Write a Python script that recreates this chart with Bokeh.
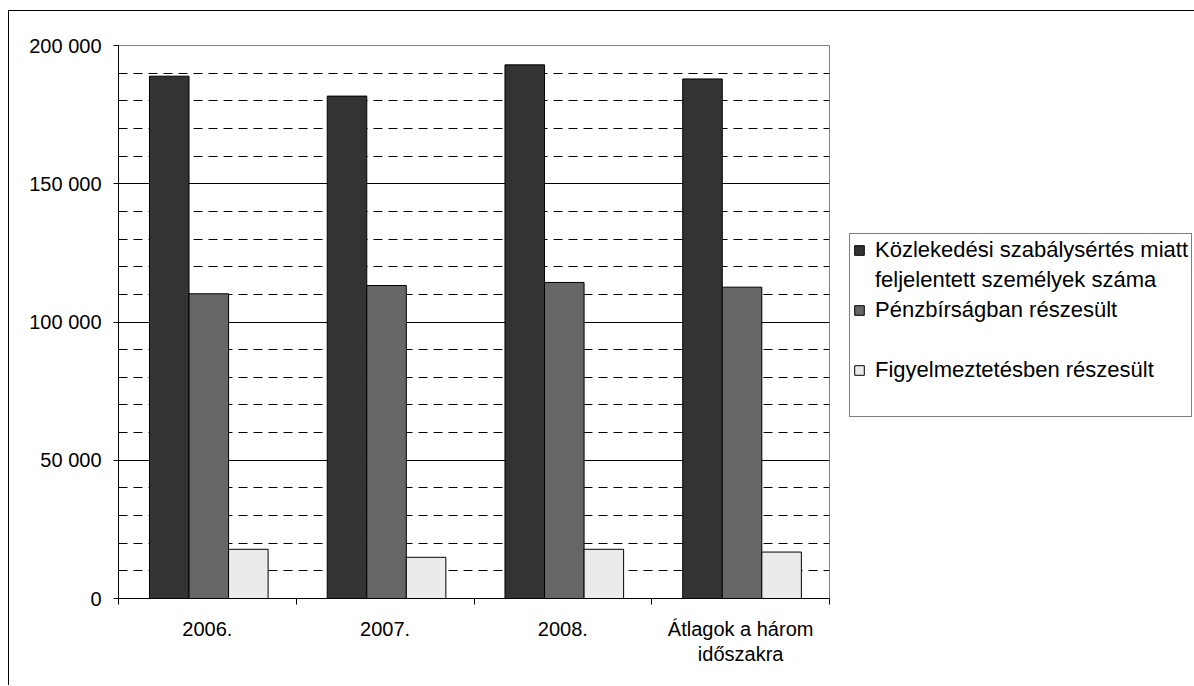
from bokeh.plotting import figure
from bokeh.models import ColumnDataSource, Range1d, FixedTicker, Legend, LegendItem
from bokeh.transform import dodge
from bokeh.embed import file_html
from bokeh.resources import INLINE

# ---- data ----
categories = ["2006.", "2007.", "2008.", "Átlagok a három\nidőszakra"]
feljelentett = [188900, 181700, 193000, 187900]
penzbirsag = [110200, 113200, 114300, 112600]
figyelmeztetes = [17800, 14900, 17800, 16800]
legend_labels = [
    ["Közlekedési szabálysértés miatt", "feljelentett személyek száma"],
    ["Pénzbírságban részesült", " "],
    ["Figyelmeztetésben részesült", " "],
]
y_ticks = [0, 50000, 100000, 150000, 200000]
colors = ["#333333", "#666666", "#EBEBEB"]

FONT = "Liberation Sans"
FS_AXIS = "20px"
FS_LEG = "22px"

centers = [i + 0.5 for i in range(len(categories))]
src = ColumnDataSource(dict(x=centers, a=feljelentett, b=penzbirsag, c=figyelmeztetes))

p = figure(frame_width=711, frame_height=553,
           x_range=Range1d(0, len(categories)), y_range=Range1d(0, 200000),
           output_backend="svg", toolbar_location=None,
           min_border_left=109, min_border_right=365,
           min_border_top=34, min_border_bottom=87)
p.styles = {"border-left": "1px solid black", "border-top": "1px solid black"}
p.margin = (10, 0, 0, 8)

p.outline_line_color = "#808080"
p.outline_line_width = 1

w = 0.2225
series = [("a", colors[0]), ("b", colors[1]), ("c", colors[2])]
offsets = [-w + 0.008, 0.008, w + 0.008]
renderers = []
for (col, colr), off in zip(series, offsets):
    r = p.vbar(x=dodge("x", off), top=col, width=w, source=src,
               fill_color=colr, line_color="black", line_width=1)
    renderers.append(r)

# y axis
minor = [v for v in range(10000, 200000, 10000) if v % 50000 != 0]
p.yaxis.ticker = FixedTicker(ticks=y_ticks, minor_ticks=minor)
p.yaxis.major_label_overrides = {v: f"{v:,}".replace(",", " ") for v in y_ticks}
p.yaxis.major_tick_out = 5
p.yaxis.major_tick_in = 0
p.yaxis.minor_tick_out = 0
p.yaxis.minor_tick_in = 0
p.yaxis.major_label_standoff = 12
p.yaxis.axis_line_color = "black"
p.yaxis.major_tick_line_color = "black"
p.yaxis.major_label_text_font = FONT
p.yaxis.major_label_text_font_size = FS_AXIS
p.yaxis.major_label_text_color = "black"

p.ygrid.ticker = FixedTicker(ticks=y_ticks[1:-1], minor_ticks=minor)
p.ygrid.grid_line_color = "black"
p.ygrid.grid_line_width = 1
p.ygrid.minor_grid_line_color = "black"
p.ygrid.minor_grid_line_dash = "9 6"
p.xgrid.visible = False

# x axis
p.xaxis.ticker = FixedTicker(ticks=centers, minor_ticks=list(range(len(categories) + 1)))
p.xaxis.major_label_overrides = {c: lab for c, lab in zip(centers, categories)}
p.xaxis.major_tick_out = 0
p.xaxis.major_tick_in = 0
p.xaxis.minor_tick_out = 6
p.xaxis.minor_tick_in = 0
p.xaxis.major_label_standoff = 13
p.xaxis.axis_line_color = "black"
p.xaxis.minor_tick_line_color = "black"
p.xaxis.major_label_text_font = FONT
p.xaxis.major_label_text_font_size = FS_AXIS
p.xaxis.major_label_text_color = "black"
p.xaxis.major_label_text_line_height = 1.15

# legend
items = []
for lines, r in zip(legend_labels, renderers):
    items.append(LegendItem(label=lines[0], renderers=[r]))
    items.append(LegendItem(label=lines[1], renderers=[]))
legend = Legend(items=items, location=(20, 181), orientation="vertical",
                margin=0, padding=3, spacing=4,
                glyph_width=12, glyph_height=12, label_height=26,
                label_standoff=10, label_width=300,
                label_text_font=FONT, label_text_font_size=FS_LEG,
                label_text_color="black",
                border_line_color="black", border_line_width=1,
                background_fill_color="white", background_fill_alpha=1)
p.add_layout(legend, "right")

open("out.html", "w").write(file_html(p, INLINE))
